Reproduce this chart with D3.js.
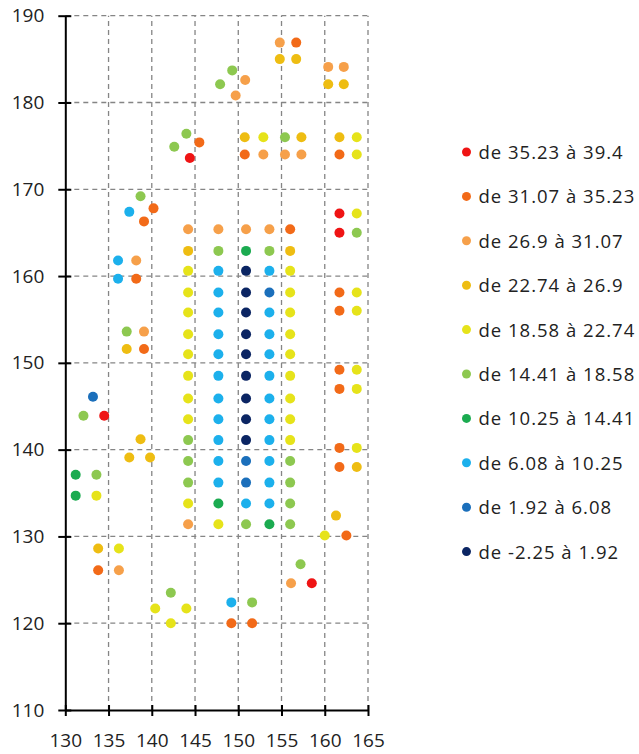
<!DOCTYPE html>
<html>
<head>
<meta charset="utf-8">
<script src="https://cdn.jsdelivr.net/npm/d3@7"></script>
<style>
  body { margin: 0; background: #fff; }
  .grid line { stroke: #858585; stroke-width: 1.3; stroke-dasharray: 5,4; }
  .axis text { font-family: "Open Sans", sans-serif; font-size: 19px; fill: #222; }
  .axis path, .axis line { stroke: #000; stroke-width: 2; }
  .legend text { font-family: "Open Sans", sans-serif; font-size: 18.5px; letter-spacing: 1px; fill: #222; }
</style>
</head>
<body>
<svg id="chart" width="639" height="754"></svg>
<script>
// classes (legend), top to bottom
var classLabels = ["de 35.23 à 39.4", "de 31.07 à 35.23", "de 26.9 à 31.07",
                   "de 22.74 à 26.9", "de 18.58 à 22.74", "de 14.41 à 18.58",
                   "de 10.25 à 14.41", "de 6.08 à 10.25", "de 1.92 à 6.08",
                   "de -2.25 à 1.92"];
var classColors = ["#ef1414", "#f26a18", "#f6a04a", "#eebd12", "#e6e31a",
                   "#8dc850", "#1bab50", "#1cb0ec", "#1b6fbb", "#0b2563"];

var xTicks = [130, 135, 140, 145, 150, 155, 160, 165];
var yTicks = [110, 120, 130, 140, 150, 160, 170, 180, 190];

// scattered points: x, y, class index
var ptX = [154.8, 156.7, 154.8, 156.7, 160.4, 162.2, 160.4, 162.2,
           147.9, 149.3, 150.8, 149.7, 142.6, 144.0, 144.4, 145.5,
           150.75, 152.9, 155.4, 157.3, 161.7, 163.7,
           150.75, 152.9, 155.4, 157.3, 161.7, 163.7,
           138.7, 137.4, 140.2, 139.1,
           161.7, 163.7, 161.7, 163.7, 161.7, 163.7, 161.7, 163.7,
           161.7, 163.7, 161.7, 163.7, 161.7, 163.7, 161.7, 163.7,
           161.3, 160.0, 162.5,
           136.1, 138.2, 136.1, 138.2, 137.1, 139.1, 137.1, 139.1,
           133.2, 132.1, 134.5, 138.7, 137.4, 139.8,
           131.2, 133.6, 131.2, 133.6, 133.8, 136.2, 133.8, 136.2,
           140.4, 142.2, 144.0, 142.2, 149.2, 151.6, 149.2, 151.6,
           156.1, 157.2, 158.5];
var ptY = [186.9, 186.9, 185.0, 185.0, 184.1, 184.1, 182.1, 182.1,
           182.1, 183.7, 182.6, 180.8, 174.9, 176.4, 173.6, 175.4,
           176.0, 176.0, 176.0, 176.0, 176.0, 176.0,
           174.0, 174.0, 174.0, 174.0, 174.0, 174.0,
           169.2, 167.4, 167.8, 166.3,
           167.2, 167.2, 165.0, 165.0, 158.1, 158.1, 156.0, 156.0,
           149.2, 149.2, 147.0, 147.0, 140.2, 140.2, 138.0, 138.0,
           132.4, 130.1, 130.1,
           161.8, 161.8, 159.7, 159.7, 153.6, 153.6, 151.6, 151.6,
           146.1, 143.9, 143.9, 141.2, 139.1, 139.1,
           137.1, 137.1, 134.7, 134.7, 128.6, 128.6, 126.1, 126.1,
           121.7, 123.5, 121.7, 120.0, 122.4, 122.4, 120.0, 120.0,
           124.6, 126.8, 124.6];
var ptClass = [2, 1, 3, 3, 2, 2, 3, 3,
               5, 5, 2, 2, 5, 5, 0, 1,
               3, 4, 5, 3, 3, 4,
               1, 2, 2, 2, 1, 4,
               5, 7, 1, 1,
               0, 4, 0, 5, 1, 4, 1, 4,
               1, 4, 1, 4, 1, 4, 1, 3,
               3, 4, 1,
               7, 2, 7, 1, 5, 2, 3, 1,
               8, 5, 0, 3, 3, 3,
               6, 5, 6, 4, 3, 4, 1, 2,
               4, 5, 4, 4, 7, 5, 1, 1,
               2, 5, 0];

// central block: 5 columns x 15 rows
var blockX = [144.2, 147.7, 150.9, 153.6, 156.0];
var blockY = [165.4, 162.9, 160.6, 158.1, 155.8, 153.3, 151.0, 148.5,
              145.9, 143.5, 141.1, 138.7, 136.2, 133.8, 131.4];
var blockClass = [
  [2, 2, 2, 2, 1],
  [3, 5, 6, 5, 3],
  [4, 7, 9, 7, 4],
  [4, 7, 9, 8, 4],
  [4, 7, 9, 7, 4],
  [4, 7, 9, 7, 4],
  [4, 7, 9, 7, 4],
  [4, 7, 9, 7, 4],
  [4, 7, 9, 7, 4],
  [4, 7, 9, 7, 4],
  [5, 7, 9, 7, 4],
  [5, 7, 8, 7, 5],
  [5, 7, 8, 7, 5],
  [4, 6, 7, 7, 5],
  [2, 4, 5, 6, 5]
];

var points = ptX.map(function(x, i) { return {x: x, y: ptY[i], c: ptClass[i]}; });
blockY.forEach(function(y, r) {
    blockX.forEach(function(x, k) {
	points.push({x: x, y: y, c: blockClass[r][k]});
    });
});

var svg = d3.select("#chart");
var x = d3.scaleLinear().domain([130, 165]).range([65.3, 368]);
var y = d3.scaleLinear().domain([110, 190]).range([710, 15.7]);

// grid
svg.append("g")
    .attr("class", "grid")
    .selectAll("line.v")
    .data(xTicks.slice(1))
    .enter().append("line")
    .attr("x1", function(d) { return x(d); })
    .attr("x2", function(d) { return x(d); })
    .attr("y1", y(110))
    .attr("y2", y(190));
svg.append("g")
    .attr("class", "grid")
    .selectAll("line.h")
    .data(yTicks.slice(1))
    .enter().append("line")
    .attr("x1", x(130))
    .attr("x2", x(165))
    .attr("y1", function(d) { return y(d); })
    .attr("y2", function(d) { return y(d); });

// axes, ticks cross the axis line
var xAxis = svg.append("g")
    .attr("class", "axis")
    .attr("transform", "translate(0," + y(110) + ")")
    .call(d3.axisBottom(x).tickValues(xTicks).tickSize(6).tickPadding(18).tickSizeOuter(0));
xAxis.selectAll(".tick line").attr("y1", -5);
var yAxis = svg.append("g")
    .attr("class", "axis")
    .attr("transform", "translate(" + x(130) + ",0)")
    .call(d3.axisLeft(y).tickValues(yTicks).tickSize(7).tickPadding(14).tickSizeOuter(0));
yAxis.selectAll(".tick line").attr("x1", 6);

// points
svg.append("g")
    .selectAll("circle")
    .data(points)
    .enter().append("circle")
    .attr("cx", function(d) { return x(d.x); })
    .attr("cy", function(d) { return y(d.y); })
    .attr("r", 5)
    .style("fill", function(d) { return classColors[d.c]; });

// legend
var leg = svg.append("g")
    .attr("class", "legend")
    .selectAll("g")
    .data(classLabels)
    .enter().append("g")
    .attr("transform", function(d, i) { return "translate(466.5," + (152 + i * 44.4) + ")"; });
leg.append("circle")
    .attr("r", 4.5)
    .style("fill", function(d, i) { return classColors[i]; });
leg.append("text")
    .attr("x", 12)
    .attr("dy", "0.38em")
    .text(function(d) { return d; });
</script>
</body>
</html>
